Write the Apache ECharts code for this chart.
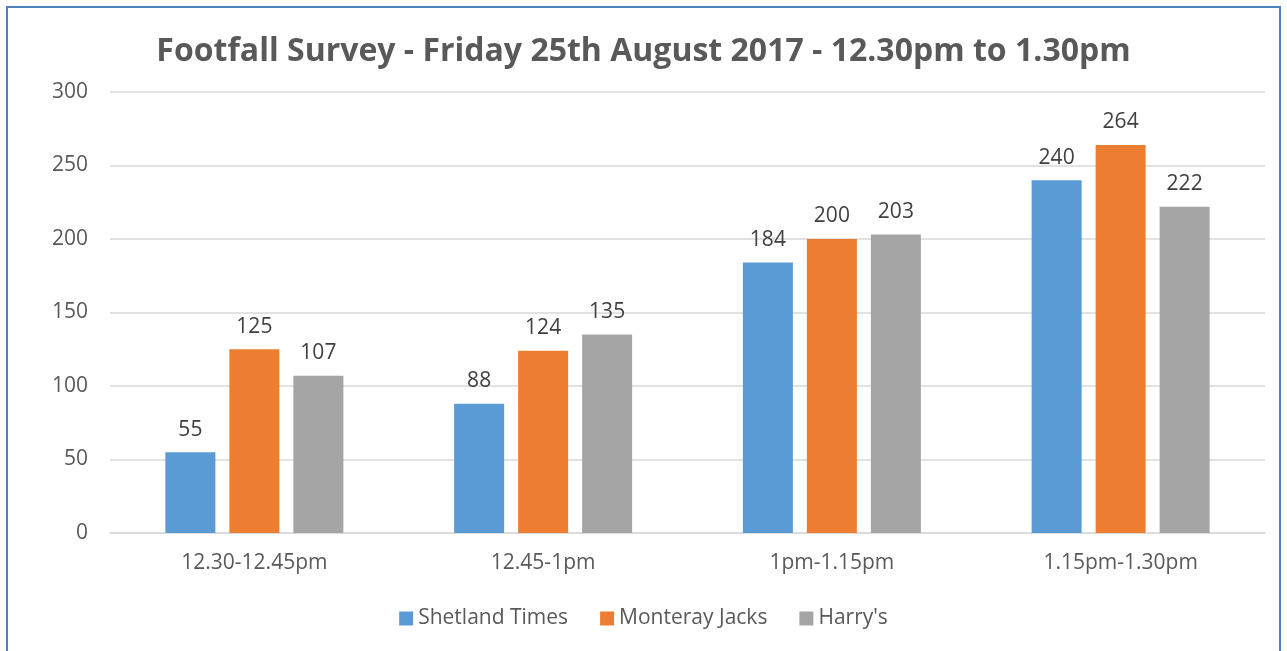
<!DOCTYPE html>
<html><head><meta charset="utf-8">
<script src="https://cdn.jsdelivr.net/npm/echarts@6/dist/echarts.min.js"></script>
<style>
html,body{margin:0;padding:0;background:#fff;}
#frame{position:absolute;left:6px;top:6px;width:1275px;height:660px;border:2px solid #4f81bd;box-sizing:border-box;}
#chart{position:absolute;left:0;top:0;width:1287px;height:651px;}
</style>
</head><body>
<div id="frame"></div>
<div id="chart"></div>
<script>
const titleText = 'Footfall Survey - Friday 25th August 2017 - 12.30pm to 1.30pm';
const categories = ['12.30-12.45pm', '12.45-1pm', '1pm-1.15pm', '1.15pm-1.30pm'];
const seriesNames = ['Shetland Times', 'Monteray Jacks', "Harry's"];
const shetlandTimes = [55, 88, 184, 240];
const montereyJacks = [125, 124, 200, 264];
const harrys = [107, 135, 203, 222];
const colors = ['#5b9bd5', '#ed7d31', '#a5a5a5'];
const font = '"Open Sans", sans-serif';

const chart = echarts.init(document.getElementById('chart'));
const seriesData = [shetlandTimes, montereyJacks, harrys];
chart.setOption({
  animation: false,
  textStyle: { fontFamily: font },
  title: {
    text: titleText, left: 'center', top: 31,
    textStyle: { fontFamily: font, fontSize: 32, fontWeight: 'bold', color: '#595959' }
  },
  legend: {
    bottom: 17, left: 'center', itemWidth: 14, itemHeight: 14, itemGap: 32,
    icon: 'rect',
    textStyle: { fontFamily: font, fontSize: 21, color: '#595959' },
    data: seriesNames
  },
  grid: { left: 110, right: 22, top: 92, bottom: 118 },
  xAxis: {
    type: 'category', data: categories,
    axisLine: { lineStyle: { color: '#d9d9d9', width: 1.5 } },
    axisTick: { show: false },
    axisLabel: { fontFamily: font, fontSize: 21, color: '#595959', margin: 20 }
  },
  yAxis: {
    type: 'value', min: 0, max: 300, interval: 50,
    axisLine: { show: false }, axisTick: { show: false },
    splitLine: { lineStyle: { color: '#d9d9d9', width: 1.5 } },
    axisLabel: { fontFamily: font, fontSize: 21, color: '#595959', margin: 22 }
  },
  series: seriesNames.map((n, i) => ({
    name: n, type: 'bar', data: seriesData[i],
    barWidth: 50, barGap: '28%',
    itemStyle: { color: colors[i] },
    label: { show: true, position: 'top', distance: 12, fontFamily: font, fontSize: 21, color: '#404040' }
  }))
});
</script>
</body></html>
